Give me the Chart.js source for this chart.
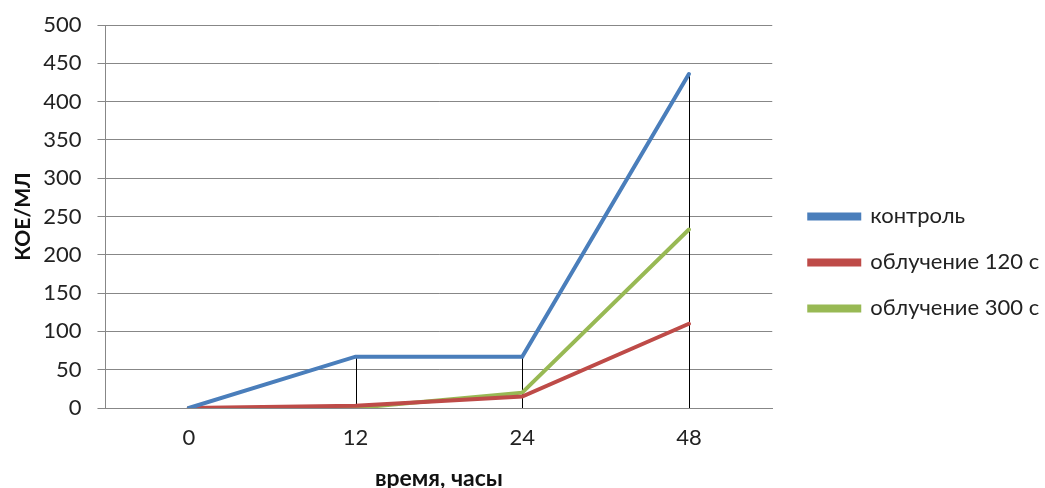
<!DOCTYPE html>
<html>
<head>
<meta charset="utf-8">
<script src="https://cdn.jsdelivr.net/npm/chart.js@4"></script>
<style>
  html, body { margin: 0; padding: 0; background: #fff; }
  #wrap { width: 1045px; height: 488px; }
</style>
</head>
<body>
<div id="wrap"><canvas id="cfuChart"></canvas></div>
<script>
const hours = ['0', '12', '24', '48'];
const control = [0, 67, 67, 436];
const irr120 = [0, 3, 15, 110];
const irr300 = [0, 0, 20, 233];
const yTicks = [0, 50, 100, 150, 200, 250, 300, 350, 400, 450, 500];

const fontFamily = 'Lato, "Open Sans", sans-serif';
const gridGray = '#878787';

// Excel-style drop lines: from the highest point at each category down to the axis
const dropLines = {
  id: 'dropLines',
  beforeDatasetsDraw(chart) {
    const { ctx, scales: { x, y } } = chart;
    ctx.save();
    ctx.strokeStyle = '#000';
    ctx.lineWidth = 1;
    hours.forEach((h, i) => {
      const top = Math.max(...chart.data.datasets.map(d => d.data[i]));
      if (top <= 0) return;
      const px = Math.round(x.getPixelForValue(i)) + 0.5;
      ctx.beginPath();
      ctx.moveTo(px, y.getPixelForValue(top));
      ctx.lineTo(px, y.getPixelForValue(0));
      ctx.stroke();
    });
    ctx.restore();
  }
};

// leave a wider gap between the plot and the legend entries
const legendGap = {
  id: 'legendGap',
  afterInit(chart) {
    const lg = chart.legend;
    const fit = lg.fit.bind(lg);
    lg.fit = () => { fit(); lg.width += 12; };
  },
  afterLayout(chart) {
    chart.legend.left += 13;
    chart.legend.right += 13;
  }
};

const ctx = document.getElementById('cfuChart').getContext('2d');
new Chart(ctx, {
  type: 'line',
  data: {
    labels: hours,
    datasets: [
      { label: 'контроль', data: control, borderColor: '#4a7ebb', backgroundColor: '#4a7ebb' },
      { label: 'облучение 120 с', data: irr120, borderColor: '#be4b48', backgroundColor: '#be4b48' },
      { label: 'облучение 300 с', data: irr300, borderColor: '#98b954', backgroundColor: '#98b954' }
    ]
  },
  options: {
    responsive: true,
    maintainAspectRatio: false,
    animation: false,
    layout: { padding: { top: 0, right: 0, left: 2, bottom: 0 } },
    elements: {
      line: { borderWidth: 4, tension: 0, borderCapStyle: 'round' },
      point: { radius: 0, hoverRadius: 0 }
    },
    plugins: {
      legend: {
        position: 'right',
        title: { display: true, text: ' ', padding: 13, font: { size: 9 } },
        labels: {
          boxWidth: 50,
          boxHeight: 4,
          padding: 24,
          color: '#222',
          font: { family: fontFamily, size: 22 }
        }
      },
      tooltip: { enabled: false }
    },
    scales: {
      x: {
        offset: true,
        grid: { display: false, drawTicks: false },
        border: { color: gridGray, width: 1 },
        ticks: { color: '#222', padding: 17, font: { family: fontFamily, size: 22 } },
        title: {
          display: true,
          text: 'время, часы',
          color: '#111',
          padding: { top: -4, bottom: -4 },
          font: { family: fontFamily, size: 23, weight: 'bold' }
        }
      },
      y: {
        min: 0,
        max: 500,
        afterBuildTicks: axis => { axis.ticks = yTicks.map(v => ({ value: v })); },
        afterFit: axis => { axis.paddingTop = 25; },
        grid: { color: gridGray, lineWidth: 1, tickLength: 8 },
        border: { color: gridGray, width: 1 },
        ticks: { color: '#222', padding: 16, font: { family: fontFamily, size: 22 } },
        title: {
          display: true,
          text: 'КОЕ/МЛ',
          color: '#111',
          padding: { top: 9, bottom: -9 },
          font: { family: fontFamily, size: 21, weight: 'bold' }
        }
      }
    }
  },
  plugins: [dropLines, legendGap]
});
</script>
</body>
</html>
